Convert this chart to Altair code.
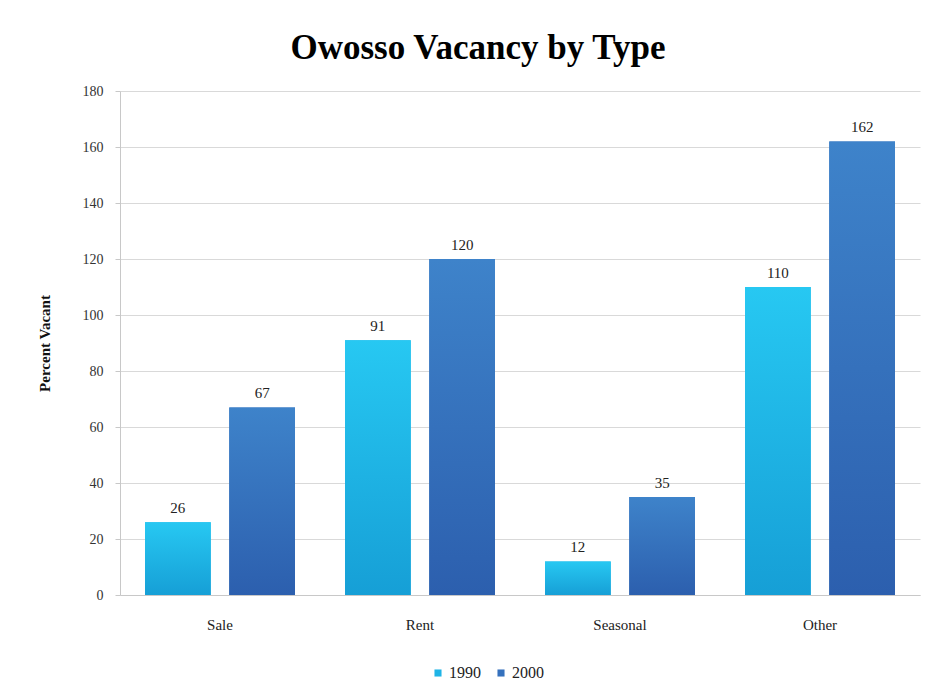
import altair as alt
import pandas as pd

categories = ["Sale", "Rent", "Seasonal", "Other"]
years = ["1990", "2000"]
values_1990 = [26, 91, 12, 110]
values_2000 = [67, 120, 35, 162]
y_ticks = [0, 20, 40, 60, 80, 100, 120, 140, 160, 180]

rows = []
for c, v in zip(categories, values_1990):
    rows.append({"Type": c, "Year": "1990", "Value": v})
for c, v in zip(categories, values_2000):
    rows.append({"Type": c, "Year": "2000", "Value": v})
df = pd.DataFrame(rows)

serif = "Liberation Serif"

grad_1990 = alt.Gradient(
    gradient="linear", x1=0, y1=0, x2=0, y2=1,
    stops=[alt.GradientStop(offset=0, color="#27c8f2"),
           alt.GradientStop(offset=1, color="#169fd6")],
)
grad_2000 = alt.Gradient(
    gradient="linear", x1=0, y1=0, x2=0, y2=1,
    stops=[alt.GradientStop(offset=0, color="#3e83ca"),
           alt.GradientStop(offset=1, color="#2c5fae")],
)

x_enc = alt.X(
    "Type:N", sort=categories, title=None,
    scale=alt.Scale(paddingInner=0.25, paddingOuter=0.125),
    axis=alt.Axis(labelAngle=0, labelFont=serif, labelFontSize=15, labelColor="#222222",
                  labelPadding=22, ticks=False, domainColor="#c8c8c8", grid=False),
)
xo_enc = alt.XOffset("Year:N", sort=years, scale=alt.Scale(paddingInner=0.22, paddingOuter=0))
y_enc = alt.Y(
    "Value:Q", title="Percent Vacant",
    scale=alt.Scale(domain=[0, 180], nice=False),
    axis=alt.Axis(values=y_ticks, labelFont=serif, labelFontSize=14, labelColor="#333333",
                  labelPadding=12, tickSize=5, tickColor="#c8c8c8", domainColor="#c8c8c8",
                  gridColor="#d9d9d9", titleFont=serif, titleFontSize=15, titleFontWeight="bold",
                  titleColor="#111111", titlePadding=30),
)

base = alt.Chart(df)

bars = base.mark_bar().encode(
    x=x_enc, xOffset=xo_enc, y=y_enc,
    color=alt.Color("Year:N", sort=years,
                    scale=alt.Scale(domain=years, range=["#1fb4e6", "#3571bd"]),
                    legend=alt.Legend(title=None, orient="none", direction="horizontal",
                                      legendX=310, legendY=574, symbolType="square",
                                      symbolSize=50, labelFont=serif, labelFontSize=16,
                                      labelColor="#222222", columnPadding=12, labelOffset=3)),
)

g1 = base.transform_filter(alt.datum.Year == "1990").mark_bar(fill=grad_1990).encode(
    x=x_enc, xOffset=xo_enc, y=y_enc)
g2 = base.transform_filter(alt.datum.Year == "2000").mark_bar(fill=grad_2000).encode(
    x=x_enc, xOffset=xo_enc, y=y_enc)

labels = base.mark_text(dy=-14, font=serif, fontSize=15, color="#222222").encode(
    x=x_enc, xOffset=xo_enc, y=y_enc, text="Value:Q")

chart = alt.layer(bars, g1, g2, labels).properties(
    width=800, height=504,
    title=alt.TitleParams("Owosso Vacancy by Type", font=serif, fontSize=35, fontWeight="bold",
                          color="#000000", anchor="middle", dx=-42, offset=18),
    padding={"left": 112, "top": 83, "right": 10, "bottom": 98},
    autosize=alt.AutoSizeParams(type="none"),
    background="white",
).configure_view(stroke=None)

chart.save("out.html", embed_options={"renderer": "svg", "actions": False})
